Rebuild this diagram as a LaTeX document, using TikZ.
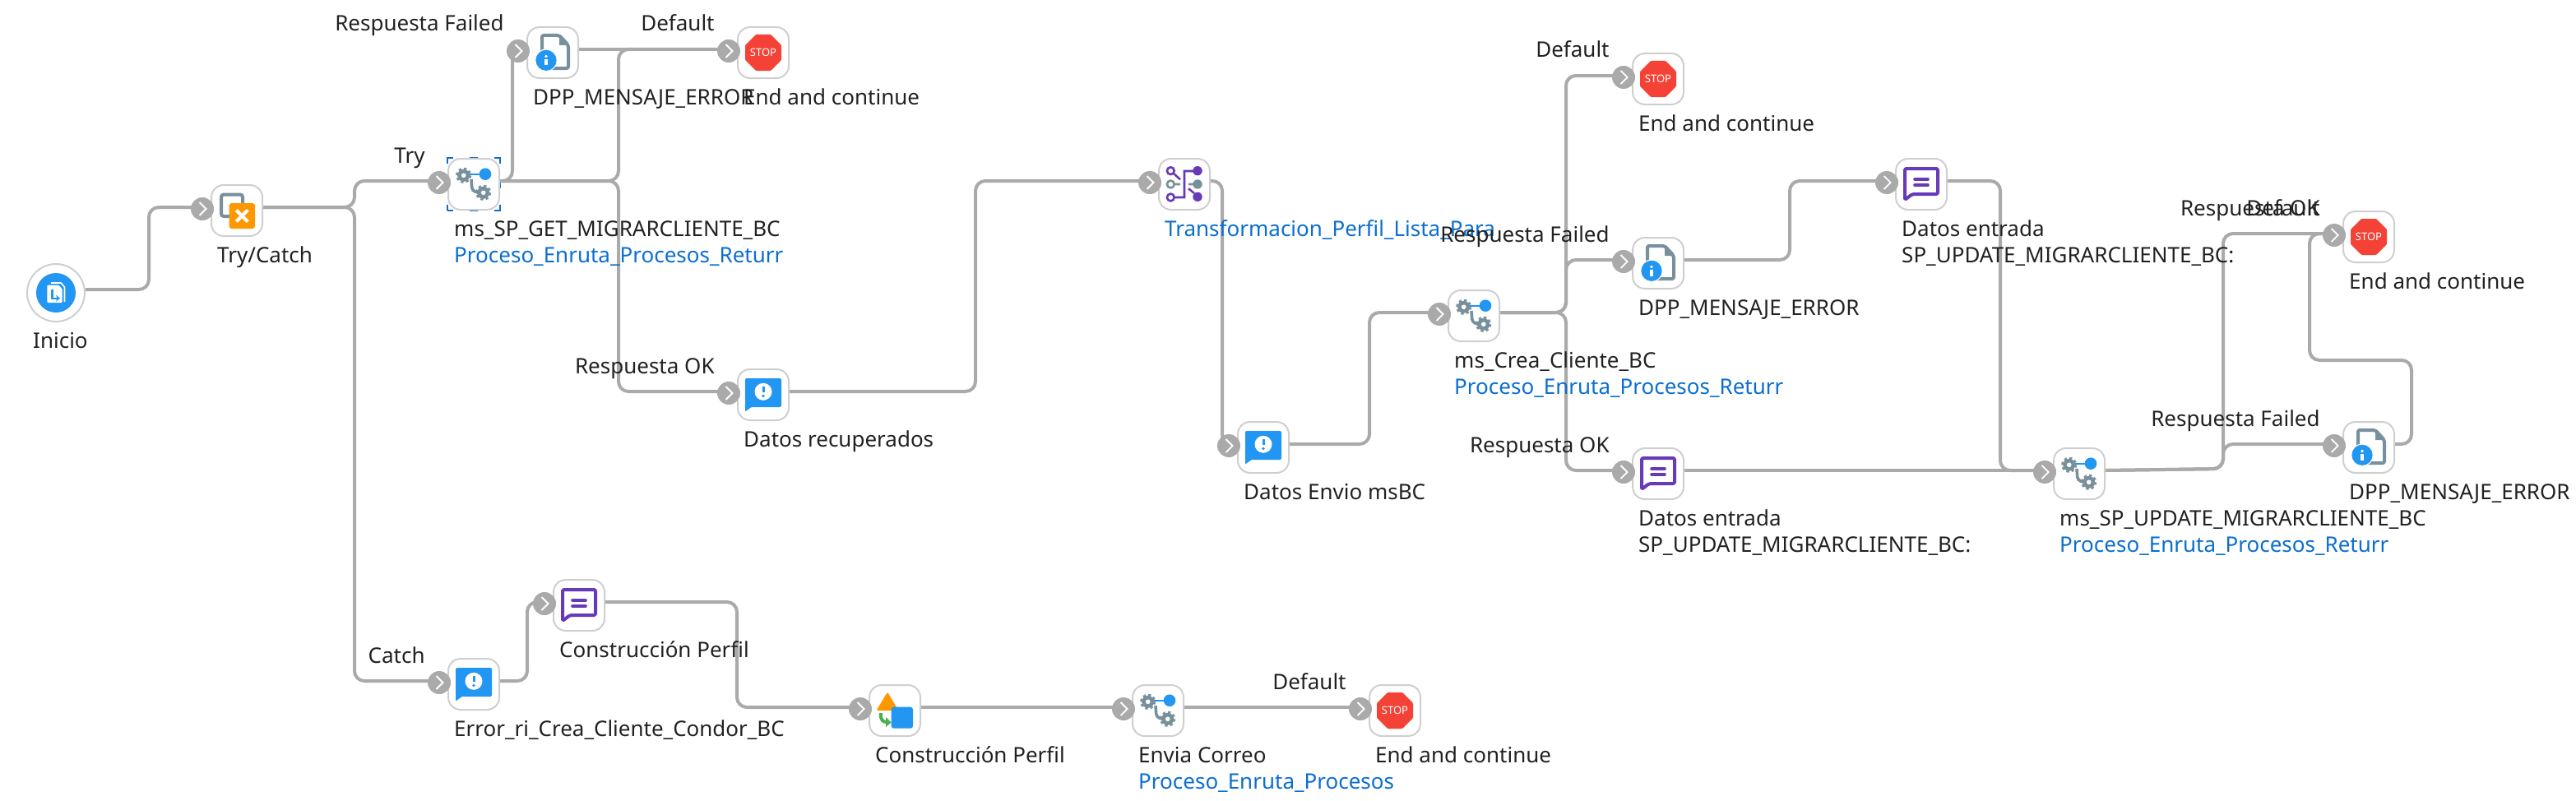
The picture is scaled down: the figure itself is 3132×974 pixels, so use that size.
\documentclass[tikz,border=0pt]{standalone}
\usepackage{fontspec}
\setmainfont{Noto Sans}
\usepackage{xcolor}
\usepackage{tikz}
\usetikzlibrary{arrows.meta,positioning,backgrounds}
\definecolor{linegray}{HTML}{AAAAAA}
\definecolor{cardgray}{HTML}{CFCFCF}
\definecolor{iconslate}{HTML}{78909C}
\definecolor{iconblue}{HTML}{2196F3}
\definecolor{iconpurple}{HTML}{673AB7}
\definecolor{iconorange}{HTML}{FF9800}
\definecolor{iconred}{HTML}{F44336}
\definecolor{icongreen}{HTML}{4CAF50}
\definecolor{linkblue}{HTML}{0A6ED1}
\definecolor{inkdark}{HTML}{212121}
\tikzset{
  cog/.pic={
    \draw[iconslate,line width=3.2pt,dash pattern=on 3.14pt off 3.14pt] (0,0) circle (8);
    \fill[iconslate] (0,0) circle (7.5);
    \fill[white] (0,0) circle (2.8);
  },
  starticon/.pic={
    \fill[iconblue] (0,0) circle (24);
    \draw[white,line width=1.6pt] (-6,-12) -- (6,-12) -- (10.5,-7) -- (10.5,11);
    \fill[white,rounded corners=1pt] (-10.7,-9.3) -- (3,-9.3) -- (7.5,-5) -- (7.5,12) -- (-10.7,12) -- cycle;
    \draw[iconblue,line width=2.4pt,-{Stealth[length=5pt,width=8pt]}] (-4.7,-4.3) -- (-4.7,6.7) -- (5,6.7);
  },
  trycatchicon/.pic={
    \draw[iconslate,line width=4pt,rounded corners=3pt] (-19,-19.5) rectangle (7,7);
    \fill[iconorange,rounded corners=3pt] (-9.3,-9) rectangle (22,22);
    \draw[white,line width=4pt] (-0.7,-0.5) -- (13.3,13.5) (-0.7,13.5) -- (13.3,-0.5);
  },
  gearicon/.pic={
    \draw[iconblue,line width=2.4pt] (-12,-12) -- (14,-12);
    \draw[iconslate,line width=3.6pt,rounded corners=4pt] (-3,-6) -- (-2,8) -- (8,11);
    \pic at (-12.3,-10.7) {cog};
    \pic at (11.7,10.3) {cog};
    \fill[iconblue] (14,-12.3) circle (7.3);
  },
  docicon/.pic={
    \draw[iconslate,line width=4pt,line join=round,rounded corners=2pt] (-13,-21) -- (8,-21) -- (19,-9) -- (19,19) -- (-13,19) -- cycle;
    \fill[iconslate] (8,-21) -- (19,-9) -- (8,-9) -- cycle;
    \fill[white] (-8,9.3) circle (13.8);
    \fill[iconblue] (-8,9.3) circle (12.6);
    \fill[white] (-8,4.5) circle (1.9);
    \draw[white,line width=3.4pt] (-8,8) -- (-8,15.5);
  },
  stopicon/.pic={
    \fill[iconred,rounded corners=1pt] (-9,-22) -- (9,-22) -- (22,-9) -- (22,9) -- (9,22) -- (-9,22) -- (-22,9) -- (-22,-9) -- cycle;
    \node[text=white,font=\fontsize{13pt}{13pt}\selectfont\bfseries,inner sep=0pt] (lab) at (0,0) {STOP};
  },
  alerticon/.pic={
    \fill[iconblue,rounded corners=2pt] (-22,-20) rectangle (22,15);
    \fill[iconblue,rounded corners=1pt] (-22,10) -- (-22,20.5) -- (-10,12) -- cycle;
    \fill[white] (0,-3.7) circle (10.5);
    \draw[iconblue,line width=3pt] (0,-10) -- (0,-3);
    \fill[iconblue] (0,1.5) circle (1.8);
  },
  noteicon/.pic={
    \draw[iconpurple,line width=4pt,line join=round,rounded corners=2pt] (-20,-19) -- (20,-19) -- (20,12) -- (-11,12) -- (-20,19) -- cycle;
    \draw[iconpurple,line width=3.6pt,line cap=round] (-8,-6) -- (8,-6) (-8,1) -- (8,1);
  },
  mapicon/.pic={
    \draw[iconpurple,line width=2.6pt] (-16.7,-16.3) circle (4.4) (-16.7,16) circle (4.4);
    \draw[iconslate,line width=2.6pt] (-16.7,0) circle (4.4) (-11,0) -- (-5,0) (5,0) -- (11,0);
    \draw[iconpurple,line width=2.6pt] (-13,-13) -- (-5,-5.7) (-11,16) -- (0,16) -- (0,-16) -- (11,-16) (5,5.3) -- (12,11);
    \fill[iconpurple] (16,-16.3) circle (5.7) (16,15.3) circle (5.7);
    \fill[iconslate] (16,0) circle (5.7);
  },
  shapesicon/.pic={
    \fill[iconorange,rounded corners=2pt] (-9,-22.5) -- (4.5,0) -- (-22.5,0) -- cycle;
    \fill[iconblue,rounded corners=3pt] (-4.3,-4.3) rectangle (22,21.7);
    \draw[icongreen,line width=4pt] (-17,3) .. controls (-18,12) and (-14,14) .. (-10,14);
    \fill[icongreen] (-11,8) -- (-4.5,14.5) -- (-11,20) -- cycle;
  }
}
% one step of the flow: card, icon, entry port, caption
\newcommand{\stepnode}[4]{
  \node[card,#2] (#1) {};
  \pic (#1i) at (#1) {#3};
  \node[port] (#1p) at ([xshift=-42pt,yshift=2pt]#1.center) {};
  \node[capt] (#1c) at ([xshift=8pt,yshift=-31pt]#1.south west) {#4};
}
\begin{document}
\begin{tikzpicture}[
  x=1pt,y=-1pt,
  card/.style={draw=cardgray,fill=white,line width=2pt,rounded corners=15pt,minimum width=62pt,minimum height=62pt,inner sep=0pt,on grid},
  startcard/.style={draw=cardgray,fill=white,line width=2pt,circle,minimum size=70pt,inner sep=0pt},
  port/.style={circle,fill=linegray,minimum size=28pt,inner sep=0pt,path picture={\draw[white,line width=1.8pt] ([xshift=-3.5pt,yshift=8pt]path picture bounding box.center) -- ++(8pt,-8pt) -- ++(-8pt,-8pt);}},
  capt/.style={anchor=base west,inner sep=0pt,text=inkdark,font=\fontsize{26pt}{32pt}\selectfont},
  subcapt/.style={capt,text=linkblue},
  branch/.style={anchor=base east,inner sep=0pt,text=inkdark,font=\fontsize{26pt}{32pt}\selectfont},
  link/.style={draw=linegray,line width=4pt,rounded corners=12pt},
  selbox/.style={draw=linkblue,line width=2pt,dash pattern=on 14pt off 20pt on 10pt off 20pt,dash phase=7pt,minimum size=64pt,inner sep=0pt}
]
  \useasboundingbox (0,0) rectangle (3132,974);
  % first branch, try side
  \node[startcard] (start) at (68,356) {};
  \pic (starti) at (start) {starticon};
  \node[capt] (startc) at ([xshift=-28pt,yshift=-31pt]start.south) {Inicio};
  \stepnode{tc}{above right=100pt and 220pt of start}{trycatchicon}{Try/Catch}
  \stepnode{getms}{above right=32pt and 288pt of tc}{gearicon}{ms\_SP\_GET\_MIGRARCLIENTE\_BC}
  \node[subcapt] (getmss) at ([yshift=-32pt]getmsc.base west) {Proceso\_Enruta\_Procesos\_Returr};
  \stepnode{dppa}{above right=160pt and 96pt of getms}{docicon}{DPP\_MENSAJE\_ERROR}
  \stepnode{stopa}{right=256pt of dppa}{stopicon}{End and continue}
  \stepnode{rec}{below=416pt of stopa}{alerticon}{Datos recuperados}
  \stepnode{trans}{above right=256pt and 512pt of rec}{mapicon}{\textcolor{linkblue}{Transformacion\_Perfil\_Lista\_Para}}
  \stepnode{env}{below right=320pt and 96pt of trans}{alerticon}{Datos Envio msBC}
  \stepnode{crea}{above right=160pt and 256pt of env}{gearicon}{ms\_Crea\_Cliente\_BC}
  \node[subcapt] (creas) at ([yshift=-32pt]creac.base west) {Proceso\_Enruta\_Procesos\_Returr};
  \stepnode{stopb}{above right=288pt and 224pt of crea}{stopicon}{End and continue}
  \stepnode{dppb}{below=224pt of stopb}{docicon}{DPP\_MENSAJE\_ERROR}
  \stepnode{entb}{below=256pt of dppb}{noteicon}{Datos entrada}
  \node[capt] (entbs) at ([yshift=-32pt]entbc.base west) {SP\_UPDATE\_MIGRARCLIENTE\_BC:};
  \stepnode{enta}{above right=96pt and 320pt of dppb}{noteicon}{Datos entrada}
  \node[capt] (entas) at ([yshift=-32pt]entac.base west) {SP\_UPDATE\_MIGRARCLIENTE\_BC:};
  \stepnode{upd}{right=512pt of entb}{gearicon}{ms\_SP\_UPDATE\_MIGRARCLIENTE\_BC}
  \node[subcapt] (upds) at ([yshift=-32pt]updc.base west) {Proceso\_Enruta\_Procesos\_Returr};
  \stepnode{stopd}{above right=288pt and 352pt of upd}{stopicon}{End and continue}
  \stepnode{dppd}{below=256pt of stopd}{docicon}{DPP\_MENSAJE\_ERROR}
  % second branch, catch side
  \stepnode{err}{below right=576pt and 288pt of tc}{alerticon}{Error\_ri\_Crea\_Cliente\_Condor\_BC}
  \stepnode{cona}{above right=96pt and 128pt of err}{noteicon}{Construcción Perfil}
  \stepnode{conb}{below right=128pt and 384pt of cona}{shapesicon}{Construcción Perfil}
  \stepnode{mail}{right=320pt of conb}{gearicon}{Envia Correo}
  \node[subcapt] (mails) at ([yshift=-32pt]mailc.base west) {Proceso\_Enruta\_Procesos};
  \stepnode{stopc}{right=288pt of mail}{stopicon}{End and continue}
  % labels on the branches
  \node[branch] (ltry) at ([xshift=-3pt,yshift=24pt]getmsp.west) {Try};
  \node[branch] (lcatch) at ([xshift=-3pt,yshift=24pt]errp.west) {Catch};
  \node[branch] (lfaila) at ([xshift=-3pt,yshift=24pt]dppap.west) {Respuesta Failed};
  \node[branch] (ldefa) at ([xshift=-3pt,yshift=24pt]stopap.west) {Default};
  \node[branch] (loka) at ([xshift=-3pt,yshift=24pt]recp.west) {Respuesta OK};
  \node[branch] (ldefb) at ([xshift=-3pt,yshift=24pt]stopbp.west) {Default};
  \node[branch] (lfailb) at ([xshift=-3pt,yshift=24pt]dppbp.west) {Respuesta Failed};
  \node[branch] (lokb) at ([xshift=-3pt,yshift=24pt]entbp.west) {Respuesta OK};
  \node[branch] (lokd) at ([xshift=-3pt,yshift=24pt]stopdp.west) {Respuesta OK};
  \node[branch] (ldefd) at ([xshift=-3pt,yshift=24pt]stopdp.west) {Default};
  \node[branch] (lfaild) at ([xshift=-3pt,yshift=24pt]dppdp.west) {Respuesta Failed};
  \node[branch] (ldefc) at ([xshift=-3pt,yshift=24pt]stopcp.west) {Default};
  % connectors go under the cards
  \begin{scope}[on background layer]
    \node[selbox] (getmssel) at (getms) {};
    \draw[link] ([yshift=4pt]start.east) -- (181,352) -- (181,252) -- ([yshift=2pt]tcp.center);
    \draw[link] ([yshift=4pt]tc.east) -- (431,252) -- (431,220) -- ([yshift=2pt]getmsp.center);
    \draw[link] ([yshift=4pt]tc.east) -- (431,252) -- (431,828) -- ([yshift=2pt]errp.center);
    \draw[link] ([yshift=4pt]getms.east) -- (623,220) -- (623,60) -- ([yshift=2pt]dppap.center);
    \draw[link] ([yshift=4pt]getms.east) -- (752,220) -- (752,60) -- ([yshift=2pt]stopap.center);
    \draw[link] ([yshift=4pt]getms.east) -- (752,220) -- (752,476) -- ([yshift=2pt]recp.center);
    \draw[link] ([yshift=4pt]dppa.east) -- ([yshift=2pt]stopap.center);
    \draw[link] ([yshift=4pt]rec.east) -- (1186,476) -- (1186,220) -- ([yshift=2pt]transp.center);
    \draw[link] ([yshift=4pt]trans.east) -- (1486,220) -- (1486,540) -- ([yshift=2pt]envp.center);
    \draw[link] ([yshift=4pt]env.east) -- (1665,540) -- (1665,380) -- ([yshift=2pt]creap.center);
    \draw[link] ([yshift=4pt]crea.east) -- (1904,380) -- (1904,92) -- ([yshift=2pt]stopbp.center);
    \draw[link] ([yshift=4pt]crea.east) -- (1904,380) -- (1904,316) -- ([yshift=2pt]dppbp.center);
    \draw[link] ([yshift=4pt]crea.east) -- (1904,380) -- (1904,572) -- ([yshift=2pt]entbp.center);
    \draw[link] ([yshift=4pt]dppb.east) -- (2176,316) -- (2176,220) -- ([yshift=2pt]entap.center);
    \draw[link] ([yshift=4pt]enta.east) -- (2432,220) -- (2432,572) -- ([yshift=2pt]updp.center);
    \draw[link] ([yshift=4pt]entb.east) -- ([yshift=2pt]updp.center);
    \draw[link] ([yshift=4pt]upd.east) -- (2703,570) -- (2703,284) -- ([yshift=2pt]stopdp.center);
    \draw[link] ([yshift=4pt]upd.east) -- (2703,570) -- (2703,540) -- ([yshift=2pt]dppdp.center);
    \draw[link] ([yshift=4pt]dppd.east) -- (2932,540) -- (2932,438) -- (2808,438) -- (2808,284) -- ([yshift=2pt]stopdp.center);
    \draw[link] ([yshift=4pt]err.east) -- (641,828) -- (641,732) -- ([yshift=2pt]conap.center);
    \draw[link] ([yshift=4pt]cona.east) -- (896,732) -- (896,860) -- ([yshift=2pt]conbp.center);
    \draw[link] ([yshift=4pt]conb.east) -- ([yshift=2pt]mailp.center);
    \draw[link] ([yshift=4pt]mail.east) -- ([yshift=2pt]stopcp.center);
  \end{scope}
\end{tikzpicture}
\end{document}
